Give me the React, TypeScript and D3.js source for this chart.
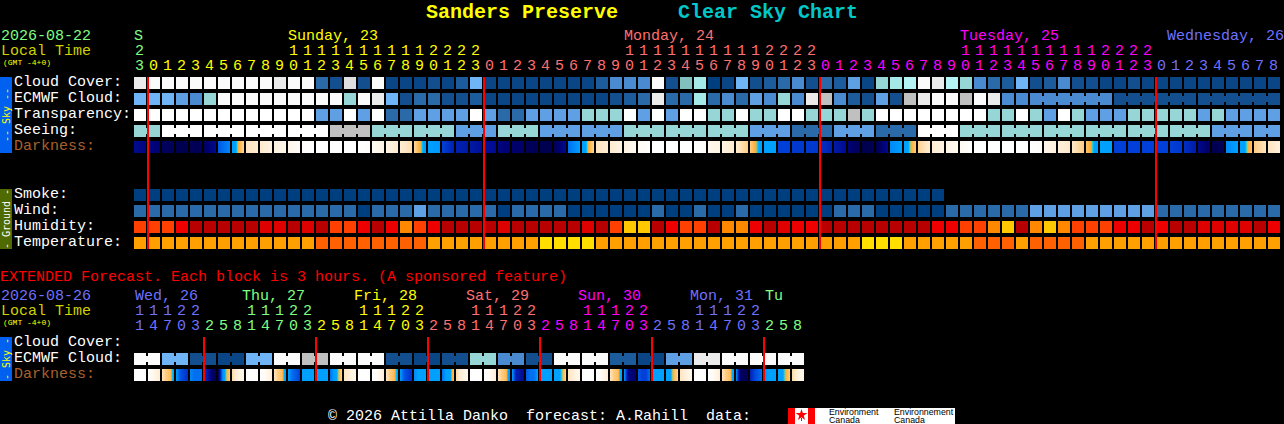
import * as d3 from "d3";

const WIDTH = 1284;
const HEIGHT = 424;
const CHAR_W = 9;
const MONO = "'Liberation Mono', monospace";

// hour of each main chart block
const mainHours = [
  23, 0, 1, 2, 3, 4, 5, 6, 7, 8, 9, 10, 11, 12, 13, 14, 15, 16, 17, 18, 19, 20, 21, 22, 23,
  0, 1, 2, 3, 4, 5, 6, 7, 8, 9, 10, 11, 12, 13, 14, 15, 16, 17, 18, 19, 20, 21, 22, 23,
  0, 1, 2, 3, 4, 5, 6, 7, 8, 9, 10, 11, 12, 13, 14, 15, 16, 17, 18, 19, 20, 21, 22, 23,
  0, 1, 2, 3, 4, 5, 6, 7, 8,
];
const mainDayLabels = ["S", "Sunday, 23", "Monday, 24", "Tuesday, 25", "Wednesday, 26"];
const mainDayCols = [0, 11, 35, 59, 81];
const mainDayColors = ["#80ff80", "#ffff00", "#ff7070", "#ff00ff", "#7070ff"];

// percent cloud
const cloudCover = [
  10, 0, 0, 0, 0, 0, 0, 0, 0, 0, 10, 0, 0, 80, 90, 20, 90, 0, 95, 95, 95,
  90, 95, 85, 60, 95, 95, 95, 95, 95, 95, 95, 95, 85, 70, 70, 70, 0, 90, 50, 40, 100, 95, 60, 90, 85, 80, 70, 90, 80, 85, 65,
  95, 45, 40, 35, 0, 10, 35, 45, 70, 80, 85, 60, 90, 85, 70, 90, 90, 95, 95, 90, 95, 95, 95, 95, 95, 95, 95, 95, 95, 95,
];
const ecmwfCloud = [
  60, 60, 60, 65, 70, 45, 0, 0, 0, 0, 0, 0, 0, 0, 0, 45, 0, 10, 60, 90, 80,
  80, 90, 90, 85, 95, 95, 95, 95, 95, 95, 95, 95, 95, 90, 85, 80, 10, 80, 80, 40, 80, 70, 80, 65, 70, 45, 70, 10, 30, 70, 85,
  90, 65, 90, 30, 10, 0, 0, 30, 0, 10, 70, 70, 70, 70, 70, 70, 70, 70, 90, 90, 90, 90, 90, 90, 90, 90, 90, 90, 90, 90,
];
const ecmwfSpans = [
  1, 1, 1, 1, 1, 1, 1, 1, 1, 1, 1, 1, 1, 1, 1, 1, 1, 1, 1, 1, 1,
  1, 1, 1, 1, 1, 1, 1, 1, 1, 1, 1, 1, 1, 1, 1, 1, 1, 1, 1, 1, 1, 1, 1, 1, 1, 1, 1, 1, 1, 1, 1,
  1, 1, 1, 1, 1, 1, 1, 1, 1, 1, 1, 1, 6, 6, 6,
];

// sky classes: 5 best, 2 poor, 0 too cloudy to forecast
const transparency = [
  5, 5, 5, 5, 5, 5, 5, 5, 5, 5, 5, 5, 5, 3, 3, 5, 3, 5, 2, 2, 3,
  3, 3, 3, 5, 3, 2, 2, 3, 3, 3, 3, 4, 4, 4, 5, 3, 5, 3, 5, 5, 4, 4, 5, 4, 4, 5, 5, 4, 4, 4, 0,
  4, 5, 5, 5, 5, 5, 5, 5, 5, 4, 4, 5, 4, 3, 5, 4, 3, 3, 3, 4, 4, 4, 4, 4, 3, 4, 3, 3, 3, 3,
];
const seeingBlocks = [4, 5, 5, 5, 5, 0, 4, 4, 3, 4, 3, 3, 4, 4, 4, 3, 2, 3, 2, 5, 4, 4, 4, 4, 4, 4, 3, 3];
const seeingSpans = [2, 3, 3, 3, 3, 3, 3, 3, 3, 3, 3, 3, 3, 3, 3, 3, 3, 3, 3, 3, 3, 3, 3, 3, 3, 3, 3, 2];

// darkness at start and end of every hour block
const darknessStart = [
  11, 11.5, 12.5, 13, 12.8, 12.5, 8.5, 7, 2, 1.6, 1.2, 0.8, 0.3, 0, 0, 0, 0, 0.5, 1, 1.5, 2.5,
  7, 9, 10, 10.3, 10.7, 11.5, 12, 12.7, 13, 12.8, 8, 7, 2, 1.5, 1, 0.5, 0, 0, 0, 0, 0.7, 1, 1.6, 3, 7, 9, 9.2, 9.2, 9.5, 10.3, 11.8,
  13, 13, 7.5, 7, 2.8, 1.5, 1, 0.5, 0, 0, 0, 0, 0, 0.8, 1.2, 1.8, 3.5, 7, 9, 9, 9, 9, 9, 9.5, 11, 13, 7.5, 7, 3, 2,
];
const darknessEnd = [
  11.5, 12, 12.8, 13, 12.8, 11, 7.5, 2.5, 1.5, 1.1, 0.7, 0.3, 0, 0, 0, 0, 0.3, 1, 1.6, 2.3, 6.5,
  7.2, 10, 10.3, 10.8, 11, 12, 12.3, 12.8, 13, 11, 7, 2.5, 1.5, 1, 0.5, 0, 0, 0, 0, 0.3, 1, 1.6, 3, 6.5, 7, 9, 9.3, 9.3, 10, 11, 12.7,
  13, 11, 7, 3, 1.5, 1, 0.5, 0, 0, 0, 0, 0, 0.3, 1.2, 1.7, 3, 6.5, 7, 9, 9, 9, 9, 9.3, 10.2, 12.5, 12.8, 7, 3.5, 2, 1.2,
];

const smoke = [
  0, 0, 0, 0, 0, 0, 0, 0, 0, 0, 0, 0, 0, 0, 0, 0, 0, 0, 0, 0, 0, 0, 0, 0, 0, 0, 0, 0, 0,
  0, 0, 0, 0, 0, 0, 0, 0, 0, 0, 0, 0, 0, 0, 0, 0, 0, 0, 0, 0, 0, 0, 0, 0, 0, 0, 0, 0, 0,
];
// mph
const wind = [
  9, 9, 9, 9, 9, 9, 9, 9, 9, 9, 9, 9, 9, 9, 9, 9, 3, 9, 9, 9, 14,
  9, 9, 9, 9, 9, 3, 9, 9, 9, 9, 3, 3, 3, 3, 3, 3, 9, 3, 3, 9, 3, 3, 9, 3, 3, 3, 3, 3, 3, 9, 9,
  9, 3, 3, 3, 3, 3, 9, 9, 9, 9, 9, 9, 14, 14, 14, 14, 14, 14, 14, 14, 14, 9, 9, 9, 9, 9, 9, 9, 9, 9,
];
// percent
const humidity = [
  60, 60, 60, 65, 80, 80, 80, 80, 80, 70, 70, 80, 70, 80, 60, 60, 65, 80, 65, 55, 60,
  65, 80, 80, 80, 80, 70, 80, 80, 80, 80, 80, 70, 80, 60, 50, 50, 80, 65, 60, 60, 80, 55, 55, 65, 80, 70, 65, 65, 80, 80, 80,
  80, 80, 80, 80, 80, 65, 65, 60, 60, 55, 50, 80, 55, 50, 55, 60, 60, 60, 65, 65, 80, 65, 80, 80, 70, 70, 70, 70, 80, 65,
];
// degrees C
const temperature = [
  25, 25, 25, 25, 25, 25, 25, 25, 25, 25, 25, 25, 25, 30, 30, 30, 30, 30, 30, 30, 30,
  25, 25, 25, 25, 25, 25, 25, 25, 21, 21, 21, 21, 25, 25, 25, 25, 25, 25, 25, 25, 25, 25, 25, 25, 25, 25, 25, 25, 25, 25, 25,
  21, 21, 21, 25, 25, 25, 25, 25, 30, 30, 30, 25, 30, 30, 30, 30, 25, 25, 25, 25, 25, 25, 25, 25, 25, 25, 25, 25, 25, 25,
];

// extended forecast, 3 hour blocks
const extHours = [
  11, 14, 17, 20, 23,
  2, 5, 8, 11, 14, 17, 20, 23,
  2, 5, 8, 11, 14, 17, 20, 23,
  2, 5, 8, 11, 14, 17, 20, 23,
  2, 5, 8, 11, 14, 17, 20, 23,
  2, 5, 8, 11, 14, 17, 20, 23,
  2, 5, 8,
];
const extDayLabels = ["Wed, 26", "Thu, 27", "Fri, 28", "Sat, 29", "Sun, 30", "Mon, 31", "Tu"];
const extDayCols = [0, 8, 16, 24, 32, 40, 45];
const extDayColors = ["#7070ff", "#80ff80", "#ffff00", "#ff7070", "#ff00ff", "#7070ff", "#80ff80"];
const extEcmwf = [0, 60, 90, 95, 60, 0, 30, 0, 0, 90, 95, 90, 45, 70, 90, 0, 0, 85, 95, 65, 10, 0, 0, 0];
const extEcmwfSpans = [2, 2, 2, 2, 2, 2, 2, 2, 2, 2, 2, 2, 2, 2, 2, 2, 2, 2, 2, 2, 2, 2, 2, 2];
// darkness through each 3 hour block
const extDarkness = [
  [0, 0, 0, 0], [0, 0.5, 1, 1.5], [2, 3, 3.7, 6.5], [7, 8.5, 9, 9.5], [7.5, 8, 8, 8], [9, 10.5, 12, 13],
  [13, 8, 5, 3], [2.5, 1.5, 1, 0.8], [0, 0, 0, 0], [0, 0.3, 0.8, 1.5], [2, 3, 3.7, 7], [7, 8, 8.5, 9],
  [7, 7, 7, 7], [7, 7, 7, 7], [8, 7, 5, 2.5], [2, 1.5, 1, 0.8], [0, 0, 0, 0], [0, 0.3, 0.8, 1.5],
  [2, 3, 3.8, 6.5], [7, 8.5, 9, 9.5], [7.5, 7, 7, 7], [7, 7, 7, 7], [8, 7, 6, 3.5], [2.5, 1.5, 1, 0.8],
  [0, 0, 0, 0], [0, 0.3, 0.8, 1.5], [2, 3, 3.8, 7.5], [7, 10, 10.5, 11], [8.5, 8, 8, 7], [7, 7, 7, 7],
  [7, 6.2, 5, 2.5], [2, 1.5, 1, 0.8], [0, 0, 0, 0], [0, 0.3, 0.8, 1.5], [2, 3, 3.7, 7], [7, 11, 12, 12],
  [8.5, 9, 9, 8], [7, 7, 7, 7], [7, 6, 4, 2.5], [2, 1.5, 1, 0.8], [0, 0, 0, 0], [0, 0.3, 0.8, 1.5],
  [2, 3, 3.8, 7], [7, 12, 13, 12.5], [10, 9, 8.5, 8], [7.5, 7, 7, 7], [7, 6, 4.5, 3], [2.5, 1.5, 1, 0.8],
];

const cloudColor = d3
  .scaleOrdinal<number, string>()
  .domain([100, 95, 90, 85, 80, 70, 65, 60, 50, 45, 40, 35, 30, 20, 10, 0])
  .range([
    "#003f7f", "#0a4585", "#134f8f", "#1c5c9c", "#2a6aa8", "#4a8ad0", "#5f9fe3", "#70b4f8",
    "#82c0c0", "#96d6d6", "#a4e8e8", "#b4f4f4", "#c0c0c0", "#dfdfdf", "#ebebeb", "#fbfbfb",
  ]);
const skyColor = d3
  .scaleOrdinal<number, string>()
  .domain([5, 4, 3, 2, 0])
  .range(["#ffffff", "#96d6d6", "#5f9fe3", "#2a6aa8", "#c0c0c0"]);
const smokeColor = () => "#003f7f";
const windColor = d3.scaleOrdinal<number, string>().domain([3, 9, 14]).range(["#003f7f", "#2a6aa8", "#5f9fe3"]);
const humidityColor = d3
  .scaleOrdinal<number, string>()
  .domain([50, 55, 60, 65, 70, 80])
  .range(["#ffc800", "#ff8800", "#ff4000", "#ee0000", "#df0000", "#b80000"]);
const temperatureColor = d3.scaleOrdinal<number, string>().domain([21, 25, 30]).range(["#ffde00", "#ffa000", "#ff6000"]);
// twilight goes from orange to blue over a narrow span
const darknessColor = d3
  .scaleLinear<string>()
  .domain([0, 1, 2, 3, 4, 4.75, 4.95, 5.15, 5.5, 7, 8, 9, 10, 11, 12, 13])
  .range([
    "#ffffff", "#fff4e4", "#ffe4c0", "#ffcc80", "#ffb850", "#ffa830", "#80d080", "#00d8ff",
    "#00a0ff", "#00a0ff", "#0070f0", "#0040d8", "#0020b0", "#000a90", "#000070", "#000050",
  ]);

const xMain = d3.scaleBand<number>().domain(d3.range(82)).range([134, 134 + 82 * 14 - 2]).paddingInner(2 / 14);
const xExt = d3.scaleBand<number>().domain(d3.range(48)).range([134, 134 + 48 * 14 - 2]).paddingInner(2 / 14);
const skyRows = ["Cloud Cover:", "ECMWF Cloud:", "Transparency:", "Seeing:", "Darkness:"];
const groundRows = ["Smoke:", "Wind:", "Humidity:", "Temperature:"];
const extRows = ["Cloud Cover:", "ECMWF Cloud:", "Darkness:"];
const ySky = d3.scaleBand<string>().domain(skyRows).range([77, 153]).paddingInner(4 / 16);
const yGround = d3.scaleBand<string>().domain(groundRows).range([189, 249]).paddingInner(4 / 16);
const yExt = d3.scaleBand<string>().domain(extRows).range([337, 381]).paddingInner(4 / 16);

// spread block values over their columns
function expand(values: number[], spans: number[]) {
  return values.flatMap((v, i) => d3.range(spans[i]).map(() => ({ value: v, block: i })));
}

function dayIndex(hours: number[]) {
  let day = 0;
  return hours.map((h, i) => {
    if (i > 0 && h < hours[i - 1]) day++;
    return day;
  });
}

function dayStarts(days: number[]) {
  return days.flatMap((d, i) => (i > 0 && d !== days[i - 1] ? [i] : []));
}

function Txt({ x, y, fill, size = 15, weight, children }: any) {
  return (
    <text x={x} y={y} fill={fill} fontSize={size} fontWeight={weight} fontFamily={MONO} xmlSpace="preserve">
      {children}
    </text>
  );
}

function Cells({ x, y, values, color, blocks }: any) {
  const w = x.bandwidth();
  const h = 12;
  return (
    <g>
      {values.map((v: number, i: number) => (
        <g key={i}>
          <rect x={x(i)} y={y} width={w} height={h} fill={color(v)} />
          {blocks && i + 1 < values.length && blocks[i] === blocks[i + 1] && (
            <rect x={x(i) + w} y={y + 3} width={x.step() - w} height={h - 6} fill={color(v)} />
          )}
        </g>
      ))}
    </g>
  );
}

function DarkCells({ id, x, y, series }: any) {
  const samples = d3.range(0, 1.0001, 1 / 12);
  return (
    <g>
      <defs>
        {series.map((vals: number[], i: number) => {
          const pos = d3.scaleLinear().domain(d3.range(vals.length).map((k) => k / (vals.length - 1))).range(vals);
          return (
            <linearGradient key={i} id={`${id}-${i}`}>
              {samples.map((t) => (
                <stop key={t} offset={t} stopColor={darknessColor(pos(t))} />
              ))}
            </linearGradient>
          );
        })}
      </defs>
      {series.map((_: number[], i: number) => (
        <rect key={i} x={x(i)} y={y} width={x.bandwidth()} height={12} fill={`url(#${id}-${i})`} />
      ))}
    </g>
  );
}

function SideBar({ y0, y1, fill, color, label }: any) {
  const cy = (y0 + y1) / 2;
  return (
    <g>
      <rect x={0} y={y0} width={12} height={y1 - y0} fill={fill} />
      <text
        transform={`translate(9.5,${cy}) rotate(-90)`}
        textAnchor="middle"
        fill={color}
        fontSize={10}
        fontFamily="'DejaVu Sans Mono', monospace"
      >
        {label}
      </text>
    </g>
  );
}

function HourLabels({ x, hours, days, colors, yTens, yUnits }: any) {
  return (
    <g>
      {hours.map((h: number, i: number) => (
        <g key={i}>
          {h >= 10 && (
            <Txt x={x(i) + 1} y={yTens} fill={colors[days[i]]}>
              {Math.floor(h / 10)}
            </Txt>
          )}
          <Txt x={x(i) + 1} y={yUnits} fill={colors[days[i]]}>
            {h % 10}
          </Txt>
        </g>
      ))}
    </g>
  );
}

function RedLines({ x, cols, y0, y1 }: any) {
  return (
    <g>
      {cols.map((c: number) => (
        <rect key={c} x={x(c) - 1} y={y0} width={2} height={y1 - y0} fill="#ff0000" />
      ))}
    </g>
  );
}

function Logo() {
  const leaf = d3.symbol(d3.symbolStar, 42)();
  return (
    <g>
      <rect x={788} y={408} width={167} height={16} fill="#ffffff" />
      <rect x={788} y={408} width={7} height={16} fill="#ff0000" />
      <rect x={808} y={408} width={7} height={16} fill="#ff0000" />
      <path d={leaf as string} transform="translate(801.5,415)" fill="#ff0000" />
      <rect x={801} y={418} width={1} height={3} fill="#ff0000" />
      {["Environment", "Canada"].map((t, i) => (
        <text key={t} x={829} y={415 + i * 7.5} fontSize={8.8} fill="#000" fontFamily="'Liberation Sans', sans-serif">
          {t}
        </text>
      ))}
      {["Environnement", "Canada"].map((t, i) => (
        <text key={t} x={894} y={415 + i * 7.5} fontSize={8.8} fill="#000" fontFamily="'Liberation Sans', sans-serif">
          {t}
        </text>
      ))}
    </g>
  );
}

export default function App() {
  const mainDays = dayIndex(mainHours);
  const extDays = dayIndex(extHours);
  const seeing = expand(seeingBlocks, seeingSpans);
  const ecmwf = expand(ecmwfCloud.slice(0, 64).concat([70, 90, 90]), ecmwfSpans);
  const ext = expand(extEcmwf, extEcmwfSpans);

  return (
    <svg
      width={WIDTH}
      height={HEIGHT}
      style={{ position: "fixed", left: 0, top: 0, background: "#000", display: "block" }}
    >
      <Txt x={426} y={18} fill="#ffff00" size={20} weight="bold">
        Sanders Preserve
      </Txt>
      <Txt x={678} y={18} fill="#00c8c8" size={20} weight="bold">
        Clear Sky Chart
      </Txt>

      <Txt x={1} y={40} fill="#80ff80">2026-08-22</Txt>
      <Txt x={1} y={55} fill="#d0d000">Local Time</Txt>
      <Txt x={3} y={65} fill="#ffff00" size={8}>(GMT -4+0)</Txt>

      {mainDayLabels.map((t, i) => (
        <Txt
          key={t}
          x={Math.min(xMain(mainDayCols[i]) as number, WIDTH - t.length * CHAR_W)}
          y={40}
          fill={mainDayColors[i]}
        >
          {t}
        </Txt>
      ))}
      <HourLabels x={xMain} hours={mainHours} days={mainDays} colors={mainDayColors} yTens={55} yUnits={70} />

      <SideBar y0={77} y1={153} fill="#0060f0" color="#ffff00" label="-- Sky --" />
      <SideBar y0={189} y1={249} fill="#4f6a00" color="#ffffff" label="- Ground -" />
      <SideBar y0={337} y1={381} fill="#0060f0" color="#ffff00" label="- Sky -" />

      {skyRows.map((r) => (
        <Txt key={r} x={14} y={(ySky(r) as number) + 9} fill={r === "Darkness:" ? "#a8602c" : "#ffffff"}>
          {r}
        </Txt>
      ))}
      {groundRows.map((r) => (
        <Txt key={r} x={14} y={(yGround(r) as number) + 9} fill="#ffffff">
          {r}
        </Txt>
      ))}

      <Cells x={xMain} y={ySky("Cloud Cover:")} values={cloudCover} color={cloudColor} />
      <Cells
        x={xMain}
        y={ySky("ECMWF Cloud:")}
        values={ecmwfCloud}
        color={cloudColor}
        blocks={ecmwf.map((d) => d.block)}
      />
      <Cells x={xMain} y={ySky("Transparency:")} values={transparency} color={skyColor} />
      <Cells
        x={xMain}
        y={ySky("Seeing:")}
        values={seeing.map((d) => d.value)}
        color={skyColor}
        blocks={seeing.map((d) => d.block)}
      />
      <DarkCells
        id="dark"
        x={xMain}
        y={ySky("Darkness:")}
        series={darknessStart.map((s, i) => [s, darknessEnd[i]])}
      />

      <Cells x={xMain} y={yGround("Smoke:")} values={smoke} color={smokeColor} />
      <Cells x={xMain} y={yGround("Wind:")} values={wind} color={windColor} />
      <Cells x={xMain} y={yGround("Humidity:")} values={humidity} color={humidityColor} />
      <Cells x={xMain} y={yGround("Temperature:")} values={temperature} color={temperatureColor} />

      <RedLines x={xMain} cols={dayStarts(mainDays)} y0={77} y1={249} />

      <Txt x={0} y={281} fill="#ff0000">
        EXTENDED Forecast. Each block is 3 hours. (A sponsored feature)
      </Txt>
      <Txt x={1} y={300} fill="#7070ff">2026-08-26</Txt>
      <Txt x={1} y={315} fill="#d0d000">Local Time</Txt>
      <Txt x={3} y={325} fill="#ffff00" size={8}>(GMT -4+0)</Txt>

      {extDayLabels.map((t, i) => {
        const col = extDayCols[i];
        const dx = col === 0 ? 1 : col === 45 ? 1 : -4;
        return (
          <Txt key={t} x={(xExt(col) as number) + dx} y={300} fill={extDayColors[i]}>
            {t}
          </Txt>
        );
      })}
      <HourLabels x={xExt} hours={extHours} days={extDays} colors={extDayColors} yTens={315} yUnits={330} />

      {extRows.map((r) => (
        <Txt key={r} x={14} y={(yExt(r) as number) + 9} fill={r === "Darkness:" ? "#a8602c" : "#ffffff"}>
          {r}
        </Txt>
      ))}
      <Cells
        x={xExt}
        y={yExt("ECMWF Cloud:")}
        values={ext.map((d) => d.value)}
        color={cloudColor}
        blocks={ext.map((d) => d.block)}
      />
      <DarkCells id="extdark" x={xExt} y={yExt("Darkness:")} series={extDarkness} />
      <RedLines x={xExt} cols={dayStarts(extDays)} y0={337} y1={381} />

      <Txt x={328} y={420} fill="#ffffff">
        © 2026 Attilla Danko  forecast: A.Rahill  data:
      </Txt>
      <Logo />
    </svg>
  );
}
